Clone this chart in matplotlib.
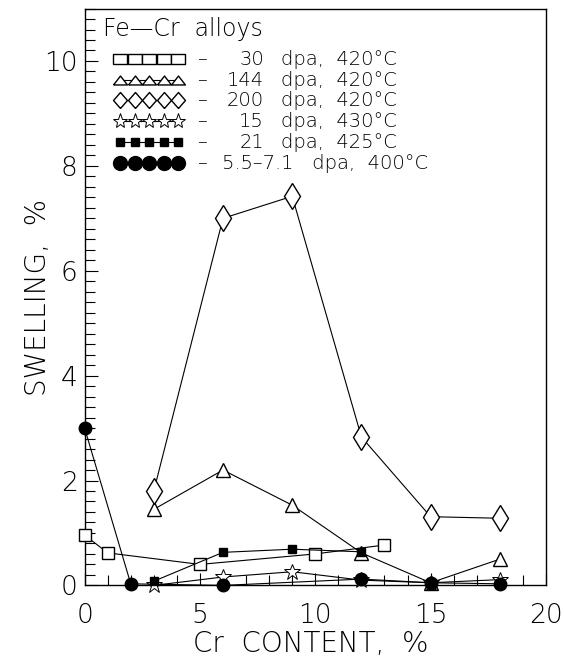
import matplotlib
matplotlib.use("Agg")
import matplotlib.pyplot as plt
from matplotlib.ticker import MultipleLocator

plt.rcParams['font.family'] = ['DejaVu Sans']
plt.rcParams['font.weight'] = 'light'
plt.rcParams['axes.labelweight'] = 'light'

# 30 dpa, 420C (open squares)
cr_30 = [0, 1, 5, 10, 13]
sw_30 = [0.96, 0.62, 0.40, 0.60, 0.77]
# 144 dpa, 420C (open triangles)
cr_144 = [3, 6, 9, 12, 15, 18]
sw_144 = [1.45, 2.20, 1.53, 0.62, 0.05, 0.50]
# 200 dpa, 420C (open diamonds)
cr_200 = [3, 6, 9, 12, 15, 18]
sw_200 = [1.80, 7.00, 7.42, 2.83, 1.31, 1.28]
# 15 dpa, 430C (stars)
cr_15 = [3, 6, 9, 12, 15, 18]
sw_15 = [0.00, 0.16, 0.26, 0.10, 0.05, 0.11]
# 21 dpa, 425C (filled squares)
cr_21 = [3, 6, 9, 12]
sw_21 = [0.08, 0.63, 0.69, 0.64]
# 5.5-7.1 dpa, 400C (filled circles)
cr_55 = [0, 2, 6, 12, 15, 18]
sw_55 = [3.00, 0.03, 0.00, 0.12, 0.05, 0.03]

legend_nums = ["30", "144", "200", "15", "21"]
legend_rest = ["dpa,  420°C", "dpa,  420°C", "dpa,  420°C", "dpa,  430°C", "dpa,  425°C"]
legend_last = "5.5–7.1   dpa,  400°C"

fig = plt.figure(figsize=(5.64, 6.57), dpi=100)
ax = fig.add_axes([0.150, 0.109, 0.818, 0.878])

lw = 0.8
styles = [
    dict(marker='s', ms=8, mfc='white', mec='black'),
    dict(marker='^', ms=10, mfc='white', mec='black'),
    dict(marker='d', ms=13, mfc='white', mec='black'),
    dict(marker='*', ms=12, mfc='white', mec='black', mew=0.7),
    dict(marker='s', ms=6, mfc='black', mec='black'),
    dict(marker='o', ms=9, mfc='black', mec='black'),
]
series = [(cr_30, sw_30), (cr_144, sw_144), (cr_200, sw_200),
          (cr_15, sw_15), (cr_21, sw_21), (cr_55, sw_55)]

for (x, y), st in zip(series, styles):
    ax.plot(x, y, color='black', lw=lw, clip_on=False, zorder=3, **st)

ax.set_xlim(0, 20)
ax.set_ylim(0, 11)
ax.xaxis.set_major_locator(MultipleLocator(5))
ax.xaxis.set_minor_locator(MultipleLocator(1))
ax.yaxis.set_major_locator(MultipleLocator(2))
ax.yaxis.set_minor_locator(MultipleLocator(0.2))
ax.tick_params(which='both', direction='in', top=False, right=False,
               width=0.8, labelsize=19)
ax.tick_params(axis='x', pad=13)
ax.tick_params(axis='y', pad=5)
ax.tick_params(which='major', length=9)
ax.tick_params(which='minor', length=7)
for s in ax.spines.values():
    s.set_linewidth(1.0)

ax.set_xlabel("Cr  CONTENT,  %", fontsize=20)
ax.set_ylabel("SWELLING,  %", fontsize=20)
ax.xaxis.set_label_coords(0.49, -0.078)
ax.yaxis.set_label_coords(-0.07, 0.5)

# legend block drawn in axes coordinates
def px_x(p):
    return (p - 84.5) / (546 - 84.5)

def px_y(p):
    return (585.5 - p) / (585.5 - 8.3)

# wide legend symbols, as in the original
leg_markers = [
    [(-0.7, -0.5), (0.7, -0.5), (0.7, 0.5), (-0.7, 0.5), (-0.7, -0.5)],
    [(-0.7, -0.45), (0.7, -0.45), (0, 0.45), (-0.7, -0.45)],
    [(0, -0.8), (0.7, 0), (0, 0.8), (-0.7, 0), (0, -0.8)],
    '*',
    's',
    'o',
]
leg_ms = [10, 10, 11.5, 11, 6, 10]

ax.text(px_x(103), px_y(29), "Fe—Cr  alloys", fontsize=17,
        transform=ax.transAxes, va='center', ha='left')
row_y = [59, 80, 100, 121, 142, 163]
mk_x = [px_x(120 + 14.5 * i) for i in range(5)]
for i, (st, ry) in enumerate(zip(styles, row_y)):
    st2 = dict(st)
    st2['ms'] = leg_ms[i]
    st2['marker'] = leg_markers[i]
    ax.plot(mk_x, [px_y(ry)] * 5, color='black', lw=lw,
            transform=ax.transAxes, clip_on=False, **st2)
    ax.text(px_x(197), px_y(ry), "–", fontsize=14, transform=ax.transAxes,
            va='center', ha='left')
    if i < 5:
        ax.text(px_x(264), px_y(ry), legend_nums[i], fontsize=14,
                transform=ax.transAxes, va='center', ha='right')
        ax.text(px_x(281), px_y(ry), legend_rest[i], fontsize=14,
                transform=ax.transAxes, va='center', ha='left')
    else:
        ax.text(px_x(222), px_y(ry), legend_last, fontsize=14,
                transform=ax.transAxes, va='center', ha='left')

fig.savefig("out.png", dpi=100)
